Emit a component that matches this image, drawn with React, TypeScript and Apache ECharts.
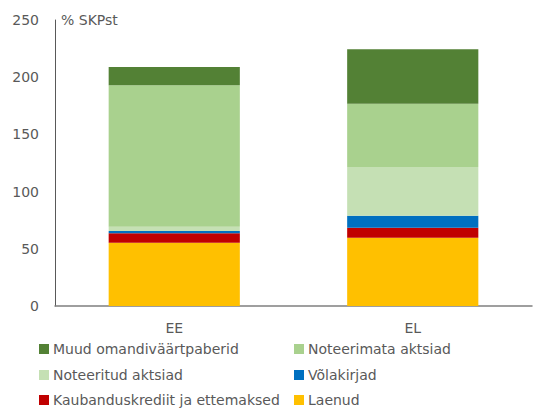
import React, { useEffect, useRef } from "react";
import * as echarts from "echarts";

const categories = ["EE", "EL"];
const seriesNames = [
  "Laenud",
  "Kaubanduskrediit ja ettemaksed",
  "Võlakirjad",
  "Noteeritud aktsiad",
  "Noteerimata aktsiad",
  "Muud omandiväärtpaberid",
];
const laenud = [55.3, 59.7];
const kaubandus = [8.2, 8.7];
const volakirjad = [2.1, 10.5];
const noteeritud = [3.7, 42.6];
const noteerimata = [123.6, 55.3];
const muud = [16.0, 47.6];
const colors = ["#FFC000", "#C00000", "#0070C0", "#C5E0B4", "#A9D18E", "#538135"];
const yTicks = { min: 0, max: 250, interval: 50 };

// legend layout: [series index, column, row]
const legendOrder = [
  [5, 0, 0],
  [4, 1, 0],
  [3, 0, 1],
  [2, 1, 1],
  [1, 0, 2],
  [0, 1, 2],
];

const FONT = "DejaVu Sans";

export default function App() {
  const ref = useRef<HTMLDivElement>(null);
  useEffect(() => {
    if (!ref.current) return;
    document.body.style.margin = "0";
    const chart = echarts.init(ref.current, null, { renderer: "svg" });
    const values = [laenud, kaubandus, volakirjad, noteeritud, noteerimata, muud];
    const legendText = { fontFamily: FONT, fontSize: 14, color: "#595959" };
    const colX = [39, 294];
    const rowY = [350, 376, 401];
    chart.setOption({
      animation: false,
      textStyle: { fontFamily: FONT },
      grid: { left: 55, right: 14, top: 20, bottom: 103, containLabel: false },
      xAxis: {
        type: "category",
        data: categories,
        axisLine: { lineStyle: { color: "#7f7f7f", width: 1.5 } },
        axisTick: { show: false },
        axisLabel: { color: "#595959", fontSize: 14, fontFamily: FONT, margin: 15 },
      },
      yAxis: {
        type: "value",
        min: yTicks.min,
        max: yTicks.max,
        interval: yTicks.interval,
        name: "% SKPst",
        nameLocation: "end",
        nameGap: 0,
        nameTextStyle: {
          color: "#595959",
          fontSize: 14,
          fontFamily: FONT,
          align: "left",
          verticalAlign: "middle",
          padding: [0, 0, 0, 6],
        },
        axisLine: { show: true, lineStyle: { color: "#595959", width: 1 } },
        axisTick: { show: false },
        splitLine: { show: false },
        axisLabel: { color: "#595959", fontSize: 14, fontFamily: FONT, margin: 16 },
      },
      legend: legendOrder.map(([si, c, r]) => ({
        data: [seriesNames[si]],
        orient: "horizontal",
        left: colX[c],
        top: rowY[r] - 8,
        padding: 0,
        itemWidth: 10,
        itemHeight: 10,
        itemGap: 4,
        icon: "rect",
        selectedMode: false,
        textStyle: { ...legendText, padding: [0, 0, 0, -1] },
      })),
      series: seriesNames.map((name, i) => ({
        name,
        type: "bar",
        stack: "total",
        barWidth: "55%",
        data: values[i],
        itemStyle: { color: colors[i] },
        emphasis: { disabled: true },
      })),
    });
    return () => chart.dispose();
  }, []);
  return <div ref={ref} style={{ width: 546, height: 409 }} />;
}
